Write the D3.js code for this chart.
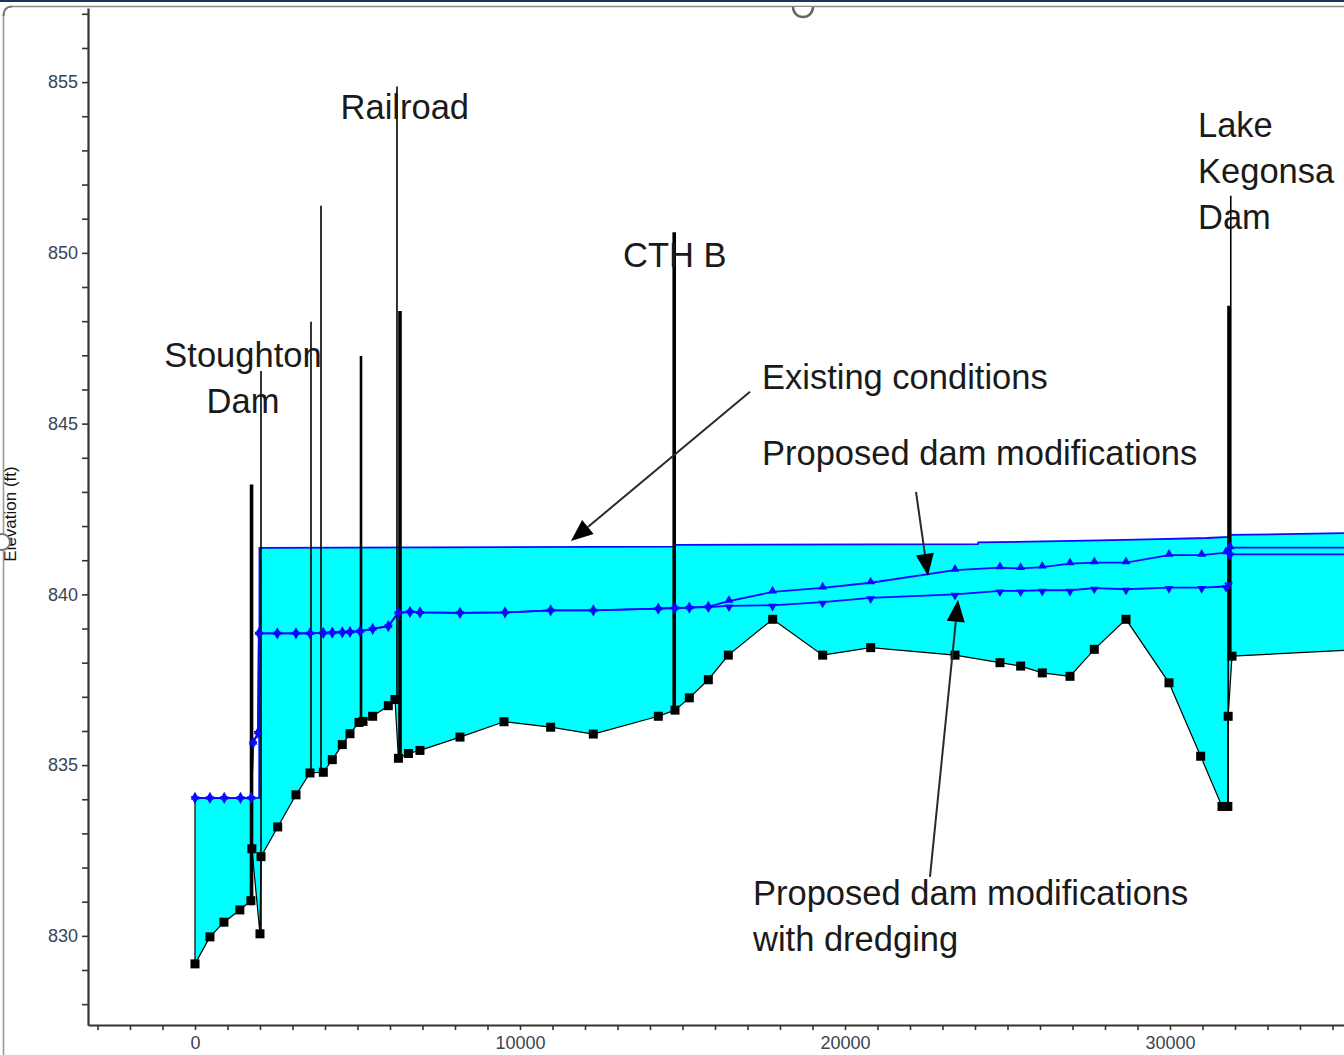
<!DOCTYPE html>
<html><head><meta charset="utf-8">
<script src="https://cdn.jsdelivr.net/npm/d3@7"></script>
<style>body{margin:0;background:#fff;} svg{display:block;font-family:"Liberation Sans",Arial,sans-serif;}</style>
</head><body>
<svg id="chart" width="1344" height="1055"></svg>
<script>
// ---------- DATA ----------
// Ground profile (channel invert) : station (ft) and elevation (ft)
const groundSta  = [0, 460, 890, 1380, 1720, 1750, 2000, 2031, 2545, 3108, 3538, 3948, 4225, 4533, 4769, 5046, 5170, 5467, 5949, 6154, 6260, 6570, 6923, 8154, 9508, 10944, 12256, 14256, 14769, 15210, 15795, 16410, 17775, 19313, 20790, 23385, 24769, 25405, 26071, 26923, 27671, 28646, 29969, 30944, 31600, 31780, 31790, 31908, 36000];
const groundElev = [829.18, 829.97, 830.40, 830.76, 831.03, 832.55, 830.06, 832.32, 833.19, 834.13, 834.77, 834.79, 835.16, 835.60, 835.92, 836.25, 836.28, 836.43, 836.74, 836.92, 835.20, 835.34, 835.43, 835.82, 836.27, 836.11, 835.91, 836.43, 836.61, 836.97, 837.50, 838.22, 839.27, 838.22, 838.44, 838.22, 838.00, 837.90, 837.70, 837.60, 838.39, 839.27, 837.41, 835.26, 833.79, 833.79, 836.43, 838.19, 838.39];

// Existing conditions water surface
const existSta = [0, 460, 900, 1400, 1730, 1975, 1985, 14740, 14800, 24090, 24100, 27846, 29292, 31138, 31815, 31850, 36000];
const existWs  = [834.04, 834.04, 834.04, 834.04, 834.04, 834.04, 841.36, 841.40, 841.45, 841.47, 841.52, 841.58, 841.61, 841.65, 841.68, 841.74, 841.80];

// Proposed dam modifications water surface
const propSta = [0, 460, 900, 1400, 1730, 1790, 1940, 1965, 2532, 3108, 3538, 3948, 4225, 4533, 4769, 5077, 5467, 5948, 6255, 6615, 6923, 8154, 9538, 10944, 12256, 14256, 14769, 15210, 15795, 16431, 17770, 19313, 20790, 23385, 24769, 25405, 26071, 26923, 27671, 28646, 29969, 30975, 31723, 31800, 31850, 36000];
const propWs  = [834.04, 834.04, 834.04, 834.04, 834.04, 835.65, 835.95, 838.86, 838.86, 838.86, 838.86, 838.87, 838.88, 838.89, 838.90, 838.92, 838.99, 839.07, 839.46, 839.49, 839.47, 839.46, 839.47, 839.53, 839.53, 839.58, 839.60, 839.61, 839.64, 839.80, 840.07, 840.19, 840.34, 840.71, 840.78, 840.76, 840.80, 840.90, 840.93, 840.93, 841.15, 841.15, 841.22, 841.25, 841.37, 841.37];

// Proposed dam modifications with dredging water surface (same stations)
const dredgeWs = [834.04, 834.04, 834.04, 834.04, 834.04, 835.65, 835.95, 838.86, 838.86, 838.86, 838.86, 838.87, 838.88, 838.89, 838.90, 838.92, 838.99, 839.07, 839.46, 839.49, 839.47, 839.46, 839.47, 839.53, 839.53, 839.58, 839.60, 839.61, 839.63, 839.66, 839.68, 839.77, 839.90, 840.00, 840.10, 840.10, 840.12, 840.12, 840.18, 840.15, 840.20, 840.20, 840.23, 840.30, 841.17, 841.17];

// Structures (dams, bridges, piers): station, top and bottom elevation, kind
const structSta  = [1740, 2031, 3569, 3877, 5108, 6215, 6308, 14745, 31790, 31815, 31870];
const structTop  = [843.22, 846.54, 847.98, 851.38, 846.98, 854.87, 848.30, 850.60, 838.19, 848.45, 851.67];
const structBot  = [830.90, 830.06, 834.78, 834.78, 836.28, 836.92, 835.16, 836.63, 833.79, 838.19, 838.19];
const structKind = ["heavy", "light", "light", "light", "medium", "light", "heavy", "heavy", "light", "heavy", "light"];

// Axis ticks
const yTickValues = [830, 835, 840, 845, 850, 855];
const xTickValues = [0, 10000, 20000, 30000];

// Annotations
const labelLines  = [["Stoughton", "Dam"], ["Railroad"], ["CTH B"], ["Lake", "Kegonsa", "Dam"], ["Existing conditions"], ["Proposed dam modifications"], ["Proposed dam modifications", "with dredging"]];
const labelSta    = [1477, 4480, 13169, 30862, 17446, 17446, 17169];
const labelElev   = [846.66, 853.92, 849.58, 853.39, 846.01, 843.79, 830.91];
const labelAnchor = ["middle", "start", "start", "start", "start", "start", "start"];

const arrowFromSta  = [17077, 22185, 22615];
const arrowFromElev = [845.93, 843.00, 831.73];
const arrowToSta    = [11569, 22554, 23477];
const arrowToElev   = [841.56, 840.54, 839.84];

// ---------- CHART ----------
const W = 1344, H = 1055;
const svg = d3.select("#chart");
const x = d3.scaleLinear().domain([-3292, 35354]).range([88, 1344]);
const y = d3.scaleLinear().domain([827.39, 857.17]).range([1025, 8]);

svg.append("defs").append("clipPath").attr("id", "plotclip")
  .append("rect").attr("x", 88).attr("y", 8).attr("width", W - 88).attr("height", 1017);

const plot = svg.append("g").attr("clip-path", "url(#plotclip)");

const pts = (sta, val) => sta.map((s, i) => [s, val[i]]);
const ground = pts(groundSta, groundElev);
const exist = pts(existSta, existWs);
const prop = pts(propSta, propWs);
const dredge = pts(propSta, dredgeWs);

const line = d3.line().x(d => x(d[0])).y(d => y(d[1]));

// water fill: existing WS forward, ground back
const fillPts = exist.concat(ground.slice().reverse());
plot.append("path").attr("d", line(fillPts) + "Z").attr("fill", "#00ffff").attr("stroke", "none");

// left edge of water
plot.append("path").attr("d", line([ground[0], exist[0]])).attr("stroke", "#000").attr("stroke-width", 1.2);

// ground line
plot.append("path").attr("d", line(ground)).attr("fill", "none").attr("stroke", "#000").attr("stroke-width", 1.2);

// water surface lines
[exist, prop, dredge].forEach(d => {
  plot.append("path").attr("d", line(d)).attr("fill", "none").attr("stroke", "#0a0aff").attr("stroke-width", 1.8);
});

// structures
const kindWidth = {heavy: 3.6, medium: 2.6, light: 1.6};
plot.selectAll(".struct").data(structSta).enter().append("line")
  .attr("x1", d => x(d)).attr("x2", d => x(d))
  .attr("y1", (d, i) => y(structTop[i])).attr("y2", (d, i) => y(structBot[i]))
  .attr("stroke", "#000").attr("stroke-width", (d, i) => kindWidth[structKind[i]]);

// blue markers
const triUp = d3.symbol().type(d3.symbolTriangle).size(34);
plot.selectAll(".mUp").data(prop).enter().append("path")
  .attr("d", triUp).attr("transform", d => `translate(${x(d[0])},${y(d[1]) - 1})`)
  .attr("fill", "#0a0aff");
plot.selectAll(".mDn").data(dredge).enter().append("path")
  .attr("d", triUp).attr("transform", d => `translate(${x(d[0])},${y(d[1]) + 1}) rotate(180)`)
  .attr("fill", "#0a0aff");

// ground square markers
plot.selectAll(".gsq").data(ground).enter().append("rect")
  .attr("x", d => x(d[0]) - 4.5).attr("y", d => y(d[1]) - 4.5)
  .attr("width", 9).attr("height", 9).attr("fill", "#000");

// ---------- AXES ----------
const tickCol = "#3a4455";
const yAxis = d3.axisLeft(y).tickValues(d3.range(828, 858, 1))
  .tickFormat(d => yTickValues.includes(d) ? d : "").tickSize(6).tickSizeOuter(0).tickPadding(4);
const gy = svg.append("g").attr("transform", "translate(88,0)").call(yAxis);
gy.select(".domain").attr("stroke", "#333").attr("stroke-width", 2.2);
gy.selectAll(".tick line").attr("stroke", "#333").attr("stroke-width", 1.6);
gy.selectAll(".tick text").attr("font-size", 18).attr("fill", tickCol)
  .attr("font-family", "Liberation Sans, Arial, sans-serif");

const xAxis = d3.axisBottom(x).tickValues(d3.range(-3000, 36000, 1000))
  .tickFormat(d => xTickValues.includes(d) ? d : "").tickSize(5).tickSizeOuter(0).tickPadding(6);
const gx = svg.append("g").attr("transform", "translate(0,1025)").call(xAxis);
gx.select(".domain").attr("stroke", "#333").attr("stroke-width", 2.2);
gx.selectAll(".tick line").attr("stroke", "#333").attr("stroke-width", 1.6);
gx.selectAll(".tick text").attr("font-size", 18).attr("fill", tickCol)
  .attr("font-family", "Liberation Sans, Arial, sans-serif");

// y title
svg.append("text").attr("transform", "translate(16,514) rotate(-90)")
  .attr("text-anchor", "middle").attr("font-size", 17).attr("fill", "#111")
  .text("Elevation (ft)");

// ---------- ANNOTATIONS ----------
labelLines.forEach((lines, i) => {
  const t = svg.append("text").attr("font-size", 34.5).attr("fill", "#1a1a1a")
    .attr("text-anchor", labelAnchor[i]);
  lines.forEach((s, j) => {
    t.append("tspan").attr("x", x(labelSta[i])).attr("y", y(labelElev[i]) + j * 46).text(s);
  });
});

arrowFromSta.forEach((s, i) => {
  const x0 = x(s), y0 = y(arrowFromElev[i]);
  const x1 = x(arrowToSta[i]), y1 = y(arrowToElev[i]);
  const ang = Math.atan2(y1 - y0, x1 - x0);
  const L = 22, Wd = 9;
  const bx = x1 - L * Math.cos(ang), by = y1 - L * Math.sin(ang);
  svg.append("line").attr("x1", x0).attr("y1", y0).attr("x2", bx).attr("y2", by)
    .attr("stroke", "#2a2a2a").attr("stroke-width", 2);
  const px = -Math.sin(ang) * Wd, py = Math.cos(ang) * Wd;
  svg.append("path").attr("d", `M${x1},${y1}L${bx + px},${by + py}L${bx - px},${by - py}Z`).attr("fill", "#000");
});

// ---------- FRAME DECORATION ----------
svg.append("rect").attr("x", 0).attr("y", 0).attr("width", W).attr("height", 2).attr("fill", "#17375e");
svg.append("line").attr("x1", 10).attr("x2", W).attr("y1", 6.5).attr("y2", 6.5).attr("stroke", "#8a8a8a").attr("stroke-width", 1.6);
svg.append("line").attr("x1", 3.5).attr("x2", 3.5).attr("y1", 12).attr("y2", H).attr("stroke", "#9a9a9a").attr("stroke-width", 1.6);
svg.append("path").attr("d", "M3.5,16 Q3.5,6.5 12,6.5").attr("fill", "none").attr("stroke", "#777").attr("stroke-width", 2);
svg.append("path").attr("d", "M793,7 A10,10 0 0 0 813,7").attr("fill", "#fff").attr("stroke", "#666").attr("stroke-width", 2.5);
svg.append("circle").attr("cx", 2).attr("cy", 542).attr("r", 8).attr("fill", "#fff").attr("stroke", "#777").attr("stroke-width", 2);
</script>
</body></html>
